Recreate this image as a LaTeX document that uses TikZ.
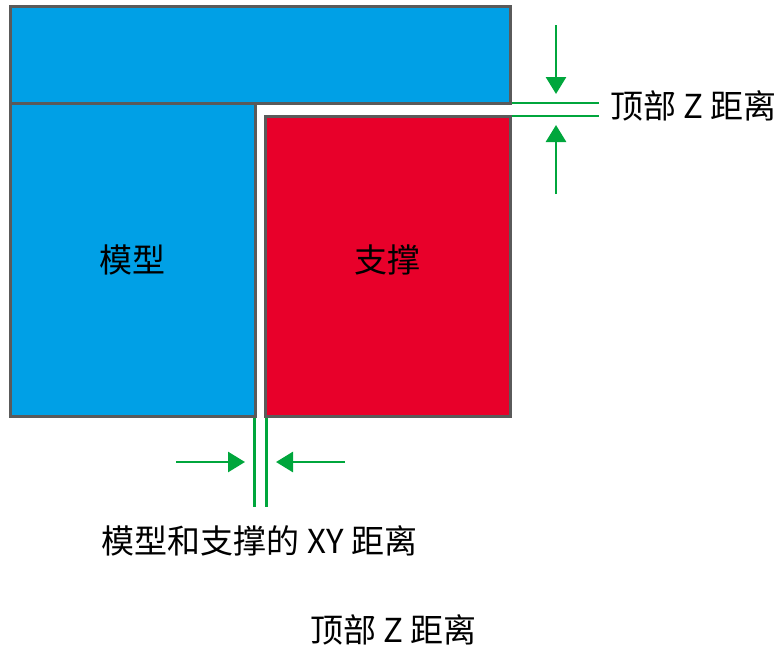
\documentclass[tikz,border=0pt]{standalone}
\usepackage{fontspec}
\newfontfamily\cjk{Noto Sans CJK SC}
\usetikzlibrary{arrows.meta}
\definecolor{modelblue}{RGB}{0,160,230}
\definecolor{supportred}{RGB}{232,0,42}
\definecolor{edgegray}{RGB}{90,90,90}
\definecolor{dimgreen}{RGB}{0,166,60}
\tikzset{
  part/.style={draw=edgegray, line width=3pt},
  dimline/.style={draw=dimgreen, line width=2.8pt},
  dimarrow/.style={draw=dimgreen, line width=2.8pt, -{Triangle[length=17pt,width=20pt]}},
  lbl/.style={font=\cjk\fontsize{33}{38}\selectfont, inner sep=0pt, text=black}
}
\begin{document}
\begin{tikzpicture}[x=1pt,y=-1pt]
\useasboundingbox (0,0) rectangle (776,648);
% corner coordinates
\coordinate (topNW) at (10,6);
\coordinate (topSE) at (510,103);
\coordinate (modNW) at (10,103);
\coordinate (modSE) at (255,416);
\coordinate (supNW) at (265.5,116);
\coordinate (supSE) at (510,416);
% model (blue) and support (red)
\path[part, fill=modelblue] (topNW) rectangle (topSE);
\path[part, fill=modelblue] (modNW) rectangle (modSE);
\path[part, fill=supportred] (supNW) rectangle (supSE);
\node[lbl] (modeltext) at (132,260) {模型};
\node[lbl] (supporttext) at (387,260) {支撑};
% top Z distance
\coordinate (zl1) at (511.5,103);
\coordinate (zl2) at (511.5,116);
\coordinate (zr1) at (599,103);
\coordinate (zr2) at (599,116);
\draw[dimline] (zl1) -- (zr1);
\draw[dimline] (zl2) -- (zr2);
\coordinate (za1) at (556,25);
\coordinate (za1t) at (556,94);
\coordinate (za2) at (556,194);
\coordinate (za2t) at (556,125);
\draw[dimarrow] (za1) -- (za1t);
\draw[dimarrow] (za2) -- (za2t);
\node[lbl, anchor=west] (ztext) at (610,105.5) {顶部 Z 距离};
% XY distance
\coordinate (xlt) at (254.5,417.5);
\coordinate (xrt) at (266.5,417.5);
\coordinate (xl) at (254.5,507);
\coordinate (xr) at (266.5,507);
\draw[dimline] (xlt) -- (xl);
\draw[dimline] (xrt) -- (xr);
\coordinate (xa1) at (176,462);
\coordinate (xa1t) at (245,462);
\coordinate (xa2) at (345,462);
\coordinate (xa2t) at (276,462);
\draw[dimarrow] (xa1) -- (xa1t);
\draw[dimarrow] (xa2) -- (xa2t);
\node[lbl] (xytext) at (259.5,541) {模型和支撑的 XY 距离};
\node[lbl] (ztext2) at (393.5,630) {顶部 Z 距离};
\end{tikzpicture}
\end{document}
